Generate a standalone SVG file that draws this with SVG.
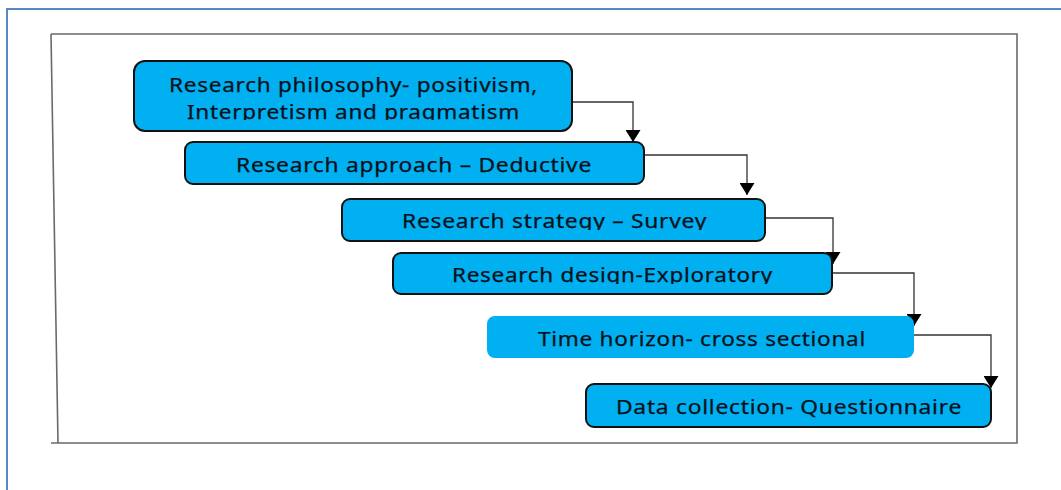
<svg xmlns="http://www.w3.org/2000/svg" width="1061" height="490" viewBox="0 0 1061 490">
  <style>
    .box { fill: #00b0f0; stroke: #111; stroke-width: 2; }
    .box-plain { fill: #00b0f0; stroke: none; }
    .label { font-family: "Noto Sans", "DejaVu Sans", sans-serif; font-size: 19px; letter-spacing: 0.6px; fill: #07111c; stroke: #07111c; stroke-width: 0.25; text-anchor: middle; }
    .link { fill: none; stroke: #333; stroke-width: 1.3; marker-end: url(#arrow); }
  </style>
  <defs>
    <marker id="arrow" markerUnits="userSpaceOnUse" markerWidth="12" markerHeight="15" refX="12" refY="7.5" orient="auto">
      <path d="M0,0 L12,7.5 L0,15 z" fill="#000"/>
    </marker>
    <!-- some labels run past the bottom of their line box and are cut at the baseline -->
    <clipPath id="clip-philosophy"><rect x="134" y="61" width="438" height="59"/></clipPath>
    <clipPath id="clip-strategy"><rect x="342" y="199" width="423" height="31"/></clipPath>
    <clipPath id="clip-design"><rect x="393" y="253" width="439" height="31"/></clipPath>
  </defs>

  <rect width="1061" height="490" fill="#fff"/>

  <!-- page frame -->
  <rect x="7" y="9" width="1080" height="500" fill="none" stroke="#5b86c4" stroke-width="2"/>

  <!-- figure frame -->
  <path d="M51,34 H1017 V443 H51 M51,34 L58,443" fill="none" stroke="#6a6a6a" stroke-width="1.6"/>

  <g id="connectors">
    <path class="link" d="M572,102 H633 V142"/>
    <path class="link" d="M644,155 H747 V195"/>
    <path class="link" d="M765,218 H833 V264"/>
    <path class="link" d="M832,273 H914 V326"/>
    <path class="link" d="M908,335 H991 V388"/>
  </g>

  <g id="philosophy">
    <rect class="box" x="134" y="61" width="438" height="70" rx="11"/>
    <g clip-path="url(#clip-philosophy)">
      <text class="label" x="353.5" y="92" textLength="369" lengthAdjust="spacingAndGlyphs">Research philosophy- positivism,</text>
      <text class="label" x="353.5" y="119" textLength="333" lengthAdjust="spacingAndGlyphs">Interpretism and pragmatism</text>
    </g>
  </g>

  <g id="approach">
    <rect class="box" x="185" y="142" width="459" height="42" rx="8"/>
    <text class="label" x="414" y="172" textLength="356" lengthAdjust="spacingAndGlyphs">Research approach – Deductive</text>
  </g>

  <g id="strategy">
    <rect class="box" x="342" y="199" width="423" height="42" rx="8"/>
    <text class="label" x="554.5" y="228" textLength="305" lengthAdjust="spacingAndGlyphs" clip-path="url(#clip-strategy)">Research strategy – Survey</text>
  </g>

  <g id="design">
    <rect class="box" x="393" y="253" width="439" height="41" rx="8"/>
    <text class="label" x="612.5" y="282" textLength="321" lengthAdjust="spacingAndGlyphs" clip-path="url(#clip-design)">Research design-Exploratory</text>
  </g>

  <g id="time-horizon">
    <rect class="box-plain" x="487" y="316" width="427" height="42" rx="8"/>
    <text class="label" x="702" y="346" textLength="328" lengthAdjust="spacingAndGlyphs">Time horizon- cross sectional</text>
  </g>

  <g id="data-collection">
    <rect class="box" x="586" y="384" width="405" height="43" rx="8"/>
    <text class="label" x="789" y="414" textLength="346" lengthAdjust="spacingAndGlyphs">Data collection- Questionnaire</text>
  </g>
</svg>
